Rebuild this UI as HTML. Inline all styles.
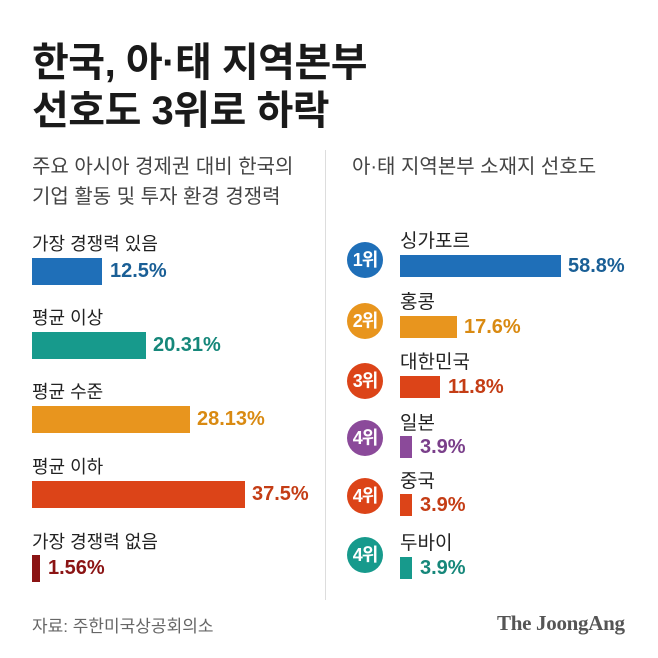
<!DOCTYPE html>
<html><head><meta charset="utf-8"><style>
body{margin:0;width:658px;height:658px;background:#fff;position:relative;overflow:hidden;font-family:"Liberation Sans","Noto Sans CJK KR",sans-serif;color:#222}
div{position:absolute;white-space:nowrap}
.t{left:32px;font-size:40px;font-weight:bold;color:#1a1a1a;letter-spacing:-0.5px}
.s{font-size:20px;color:#444}
.l{font-size:18px;color:#222}
.v{font-size:20px;font-weight:bold}
.c{width:36px;height:36px;border-radius:50%;color:#fff;font-weight:bold;font-size:18px;text-align:center;line-height:36px;left:347px;letter-spacing:-1px}
</style></head><body>
<div class="t" style="top:30px">한국, 아·태 지역본부</div>
<div class="t" style="top:78px">선호도 3위로 하락</div>
<div class="s" style="left:32px;top:150px">주요 아시아 경제권 대비 한국의</div>
<div class="s" style="left:32px;top:180px">기업 활동 및 투자 환경 경쟁력</div>
<div class="s" style="left:352px;top:150px">아·태 지역본부 소재지 선호도</div>
<div style="left:325px;top:150px;width:1px;height:450px;background:#ddd"></div>

<div class="l" style="left:32px;top:230px">가장 경쟁력 있음</div>
<div style="left:32px;top:258px;width:70px;height:27px;background:#1f6fb8"></div>
<div class="v" style="left:110px;top:260px;color:#1a5f96">12.5%</div>
<div class="l" style="left:32px;top:304px">평균 이상</div>
<div style="left:32px;top:332px;width:114px;height:27px;background:#179a8c"></div>
<div class="v" style="left:153px;top:334px;color:#16877a">20.31%</div>
<div class="l" style="left:32px;top:378px">평균 수준</div>
<div style="left:32px;top:406px;width:158px;height:27px;background:#e8951e"></div>
<div class="v" style="left:197px;top:408px;color:#d98a12">28.13%</div>
<div class="l" style="left:32px;top:453px">평균 이하</div>
<div style="left:32px;top:481px;width:213px;height:27px;background:#dc4418"></div>
<div class="v" style="left:252px;top:483px;color:#c43d15">37.5%</div>
<div class="l" style="left:32px;top:528px">가장 경쟁력 없음</div>
<div style="left:32px;top:555px;width:8px;height:27px;background:#8b1414"></div>
<div class="v" style="left:48px;top:557px;color:#8b1414">1.56%</div>

<div class="c" style="top:242px;background:#1f6fb8">1위</div>
<div class="l" style="left:400px;top:226px;font-size:19px">싱가포르</div>
<div style="left:400px;top:255px;width:161px;height:22px;background:#1f6fb8"></div>
<div class="v" style="left:568px;top:255px;color:#1a5f96">58.8%</div>
<div class="c" style="top:303px;background:#e8951e">2위</div>
<div class="l" style="left:400px;top:287px;font-size:19px">홍콩</div>
<div style="left:400px;top:316px;width:57px;height:22px;background:#e8951e"></div>
<div class="v" style="left:464px;top:316px;color:#d98a12">17.6%</div>
<div class="c" style="top:363px;background:#dc4418">3위</div>
<div class="l" style="left:400px;top:347px;font-size:19px">대한민국</div>
<div style="left:400px;top:376px;width:40px;height:22px;background:#dc4418"></div>
<div class="v" style="left:448px;top:376px;color:#c43d15">11.8%</div>
<div class="c" style="top:420px;background:#8b4a9a">4위</div>
<div class="l" style="left:400px;top:408px;font-size:19px">일본</div>
<div style="left:400px;top:436px;width:12px;height:22px;background:#8b4a9a"></div>
<div class="v" style="left:420px;top:436px;color:#7a3f8a">3.9%</div>
<div class="c" style="top:478px;background:#dc4418">4위</div>
<div class="l" style="left:400px;top:466px;font-size:19px">중국</div>
<div style="left:400px;top:494px;width:12px;height:22px;background:#dc4418"></div>
<div class="v" style="left:420px;top:494px;color:#c43d15">3.9%</div>
<div class="c" style="top:537px;background:#179a8c">4위</div>
<div class="l" style="left:400px;top:528px;font-size:19px">두바이</div>
<div style="left:400px;top:557px;width:12px;height:22px;background:#179a8c"></div>
<div class="v" style="left:420px;top:557px;color:#16877a">3.9%</div>

<div style="left:32px;top:612px;font-size:17px;color:#666">자료: 주한미국상공회의소</div>
<div style="left:497px;top:611px;font-size:21px;font-weight:bold;color:#555;font-family:'Liberation Serif',serif;letter-spacing:-0.3px">The JoongAng</div>
</body></html>
